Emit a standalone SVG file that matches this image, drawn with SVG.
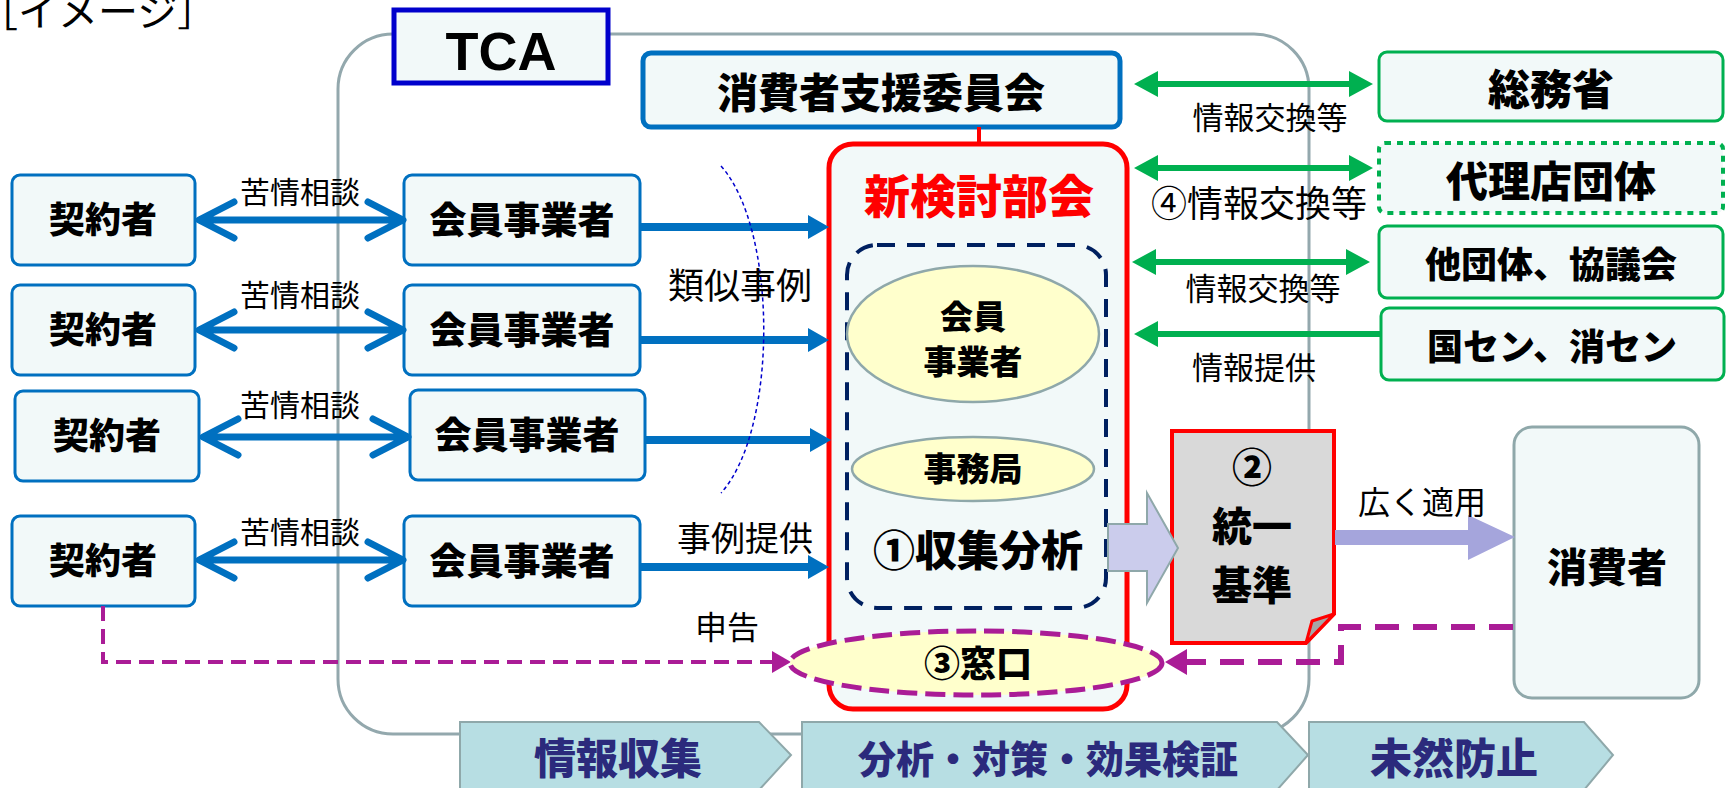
<svg xmlns="http://www.w3.org/2000/svg" width="1729" height="788" viewBox="0 0 1729 788">
<style>
text{font-family:"Noto Sans CJK JP","Noto Sans",sans-serif;text-anchor:middle;fill:#000}
.b{font-weight:900}
.r{font-weight:400}
.box{fill:#F2F9F9;stroke:#0070C0;stroke-width:3}
.gbox{fill:#F2F9F9;stroke:#00B050;stroke-width:3}
.ell{fill:#FFFFCC;stroke:#8FA8AA;stroke-width:2.5}
.tab{fill:#B7DEE3;stroke:#8FA8AA;stroke-width:2}
.tabt{fill:#2B2A7C;font-weight:900}
.chev{fill:none;stroke:#0070C0;stroke-width:7;stroke-linecap:round;stroke-linejoin:round}
.barr{fill:#0070C0}
.garr{fill:#00B050}
.mag{fill:none;stroke:#AA1C96}
</style>
<rect x="338" y="34" width="971" height="700" rx="55" fill="none" stroke="#93A8AD" stroke-width="3"/>
<text class="r" x="-22" y="26" style="text-anchor:start;font-size:40px">［イメージ］</text>
<g id="tabs">
<path class="tab" d="M460,722 H759 L791,755 L759,790 H460 Z"/>
<path class="tab" d="M802,722 H1277 L1308,755 L1277,790 H802 Z"/>
<path class="tab" d="M1309,722 H1584 L1613,755 L1584,790 H1309 Z"/>
<text class="tabt" x="618" y="774" font-size="42">情報収集</text>
<text class="tabt" x="1048" y="773" font-size="38">分析・対策・効果検証</text>
<text class="tabt" x="1454" y="774" font-size="42">未然防止</text>
</g>
<g id="tca">
<rect x="394" y="10" width="214" height="73" fill="#F2F9F9" stroke="#0000CC" stroke-width="5"/>
<text x="501" y="70" style="font-family:'Liberation Sans',Arial,sans-serif;font-weight:700;font-size:54px">TCA</text>
</g>
<g id="iinkai">
<rect class="box" x="643" y="53" width="477" height="74" rx="8" style="stroke-width:5"/>
<text class="b" x="881" y="108" font-size="41">消費者支援委員会</text>
</g>
<g id="keiyaku1"><rect class="box" x="12" y="175" width="183" height="90" rx="8"/><text class="b" x="103" y="233" font-size="36">契約者</text></g>
<g id="keiyaku2"><rect class="box" x="12" y="285" width="183" height="90" rx="8"/><text class="b" x="103" y="343" font-size="36">契約者</text></g>
<g id="keiyaku3"><rect class="box" x="15" y="391" width="184" height="90" rx="8"/><text class="b" x="107" y="449" font-size="36">契約者</text></g>
<g id="keiyaku4"><rect class="box" x="12" y="516" width="183" height="90" rx="8"/><text class="b" x="103" y="574" font-size="36">契約者</text></g>
<g id="kaiin1"><rect class="box" x="404" y="175" width="236" height="90" rx="8"/><text class="b" x="522" y="234" font-size="37">会員事業者</text></g>
<g id="kaiin2"><rect class="box" x="404" y="285" width="236" height="90" rx="8"/><text class="b" x="522" y="344" font-size="37">会員事業者</text></g>
<g id="kaiin3"><rect class="box" x="410" y="390" width="235" height="90" rx="8"/><text class="b" x="527" y="449" font-size="37">会員事業者</text></g>
<g id="kaiin4"><rect class="box" x="404" y="516" width="236" height="90" rx="8"/><text class="b" x="522" y="575" font-size="37">会員事業者</text></g>
<g id="shinbukai">
<rect x="829" y="144" width="298" height="565" rx="24" fill="#F2F9F9" stroke="#FF0000" stroke-width="5"/>
<text class="b" x="979" y="213" font-size="46" style="fill:#FF0000">新検討部会</text>
<rect x="847" y="245" width="259" height="363" rx="30" fill="none" stroke="#002060" stroke-width="4" stroke-dasharray="18 12"/>
<ellipse class="ell" cx="973" cy="334" rx="126" ry="68"/>
<text class="b" x="973" y="329" font-size="33">会員</text>
<text class="b" x="973" y="374" font-size="33">事業者</text>
<ellipse class="ell" cx="973" cy="469" rx="121" ry="32"/>
<text class="b" x="973" y="481" font-size="33">事務局</text>
<text class="b" x="978" y="566" font-size="42">①収集分析</text>
</g>
<g id="toitsu">
<polygon points="1172,431 1334,431 1334,614 1306,643 1172,643" fill="#D9D9D9" stroke="#FF0000" stroke-width="4"/>
<polygon points="1334,614 1312,621 1306,643" fill="#A6A6A6" stroke="#FF0000" stroke-width="3" stroke-linejoin="round"/>
<text class="b" x="1252" y="482" font-size="40">②</text>
<text class="b" x="1252" y="541" font-size="40">統一</text>
<text class="b" x="1252" y="600" font-size="40">基準</text>
</g>
<g id="shohisha">
<rect x="1514" y="427" width="185" height="271" rx="18" fill="#F2F9F9" stroke="#8FA8AA" stroke-width="3"/>
<text class="b" x="1607" y="582" font-size="40">消費者</text>
</g>
<g id="somu"><rect class="gbox" x="1379" y="52" width="344" height="69" rx="8"/><text class="b" x="1551" y="105" font-size="42">総務省</text></g>
<g id="dairiten"><rect x="1379" y="143" width="344" height="70" rx="6" fill="#F2F9F9" stroke="#00B050" stroke-width="4" stroke-dasharray="6 6"/><text class="b" x="1551" y="197" font-size="42">代理店団体</text></g>
<g id="tadantai"><rect class="gbox" x="1379" y="226" width="344" height="72" rx="8"/><text class="b" x="1551" y="278" font-size="36">他団体、協議会</text></g>
<g id="kokusen"><rect class="gbox" x="1381" y="308" width="343" height="72" rx="8"/><text class="b" x="1552" y="360" font-size="36">国セン、消セン</text></g>
<g id="connectors">
<line x1="979" y1="127" x2="979" y2="144" stroke="#FF0000" stroke-width="4"/>
<path class="chev" d="M200,220 H402 M234,202 L199,220 L234,238 M368,202 L403,220 L368,238"/>
<path class="chev" d="M200,330 H402 M234,312 L199,330 L234,348 M368,312 L403,330 L368,348"/>
<path class="chev" d="M204,437 H407 M238,419 L203,437 L238,455 M373,419 L408,437 L373,455"/>
<path class="chev" d="M200,560 H402 M234,542 L199,560 L234,578 M368,542 L403,560 L368,578"/>
<path class="barr" d="M640,223 H808 V215 L829,227 L808,239 V231 H640 Z"/>
<path class="barr" d="M640,336 H808 V328 L829,340 L808,352 V344 H640 Z"/>
<path class="barr" d="M645,436 H810 V428 L831,440 L810,452 V444 H645 Z"/>
<path class="barr" d="M640,563 H808 V555 L829,567 L808,579 V571 H640 Z"/>
<path d="M721,166 C778,230 778,430 721,493" fill="none" stroke="#0000CC" stroke-width="1.5" stroke-dasharray="4 3"/>
<path class="garr" d="M1134,84 L1158,71 V81 H1349 V71 L1373,84 L1349,97 V87 H1158 V97 Z"/>
<path class="garr" d="M1134,168 L1158,155 V165 H1349 V155 L1373,168 L1349,181 V171 H1158 V181 Z"/>
<path class="garr" d="M1132,262 L1156,249 V259 H1346 V249 L1370,262 L1346,275 V265 H1156 V275 Z"/>
<path class="garr" d="M1134,334 L1158,321 V331 H1381 V337 H1158 V347 Z"/>
<path d="M1108,524 H1147 V493 L1178,548 L1147,603 V571 H1108 Z" fill="#CBCCEC" stroke="#8FA8AA" stroke-width="2"/>
<path d="M1335,530 H1468 V515 L1515,537 L1468,560 V545 H1335 Z" fill="#A5A5DC"/>
<path class="mag" d="M103,606 V662 H774" stroke-width="4" stroke-dasharray="15 8"/>
<polygon points="772,651 791,662 772,673" fill="#AA1C96"/>
<path class="mag" d="M1513,627 H1341 V662 H1184" stroke-width="6" stroke-dasharray="24 14"/>
<polygon points="1187,649 1165,662 1187,675" fill="#AA1C96"/>
</g>
<g id="madoguchi">
<ellipse cx="976" cy="663" rx="186" ry="32" fill="#FFFFCC" stroke="#AA1C96" stroke-width="5" stroke-dasharray="20 8"/>
<text class="b" x="978" y="677" font-size="36">③窓口</text>
</g>
<g id="labels">
<text class="r" x="300" y="203" font-size="30">苦情相談</text>
<text class="r" x="300" y="306" font-size="30">苦情相談</text>
<text class="r" x="300" y="416" font-size="30">苦情相談</text>
<text class="r" x="300" y="543" font-size="30">苦情相談</text>
<text class="r" x="740" y="299" font-size="36">類似事例</text>
<text class="r" x="745" y="551" font-size="34">事例提供</text>
<text class="r" x="727" y="639" font-size="32">申告</text>
<text class="r" x="1270" y="129" font-size="31">情報交換等</text>
<text class="r" x="1259" y="217" font-size="36">④情報交換等</text>
<text class="r" x="1263" y="300" font-size="31">情報交換等</text>
<text class="r" x="1254" y="379" font-size="31">情報提供</text>
<text class="r" x="1422" y="514" font-size="32">広く適用</text>
</g>
</svg>
